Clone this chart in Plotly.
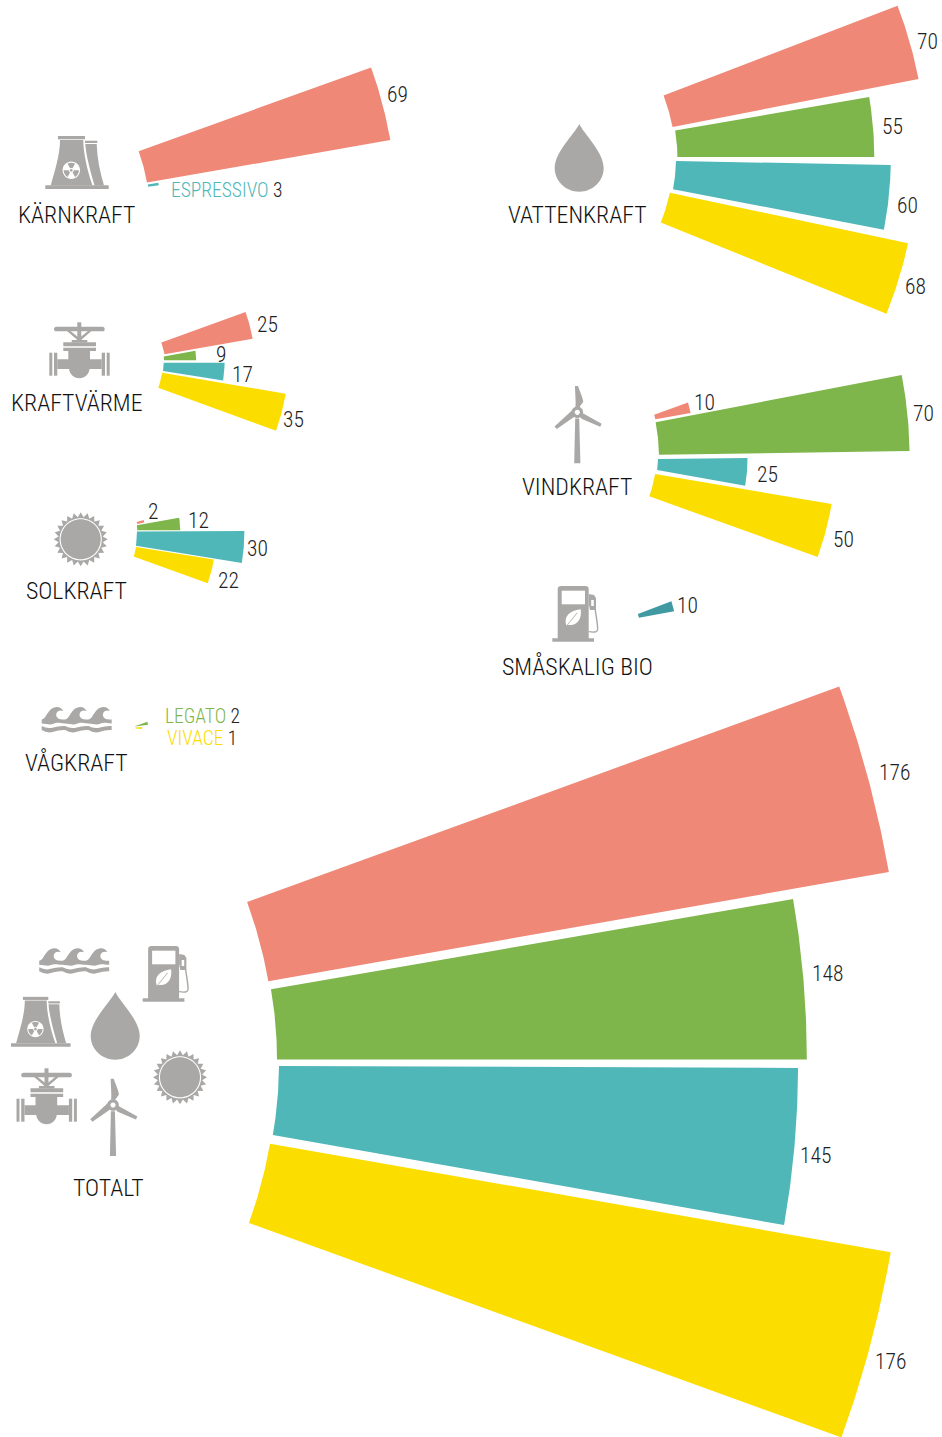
import re
import numpy as np
import plotly.graph_objects as go

# ---------- data ----------
CATEGORIES = ["KÄRNKRAFT", "VATTENKRAFT", "KRAFTVÄRME", "VINDKRAFT", "SOLKRAFT", "SMÅSKALIG BIO", "VÅGKRAFT", "TOTALT"]
CORAL_VALUES = [69, 70, 25, 10, 2, 0, 0, 176]
LEGATO_VALUES = [0, 55, 9, 70, 12, 0, 2, 148]
ESPRESSIVO_VALUES = [3, 60, 17, 25, 30, 10, 0, 145]
VIVACE_VALUES = [0, 68, 35, 50, 22, 0, 1, 176]
SERIES_NAMES = ["Coral", "LEGATO", "ESPRESSIVO", "VIVACE"]
SERIES_VALUES = [CORAL_VALUES, LEGATO_VALUES, ESPRESSIVO_VALUES, VIVACE_VALUES]

# ---------- styles / layout ----------
COLORS = ["#EF8877", "#7FB64B", "#50B7B9", "#FCDD00"]
BIO_COLOR = "#4199A2"
GREY = "#A9A8A6"
INK = "#222222"
FONT = "Roboto"
UNIT_PX = 3.58           # wedge length per unit
WAVE_UNIT_PX = 6.6       # the tiny wave-power wedges are drawn enlarged

# wedge anchor per (category, series): centre x, centre y, inner radius, low angle, high angle
WEDGES = {
    (0, 0): (-38.7, 215, 188.5, 9.9, 19.8),
    (0, 2): (-38.7, 215, 189, 8.6, 9.3),
    (1, 0): (489, 162.6, 187, 11, 21),
    (1, 1): (522.4, 157, 155, 0, 9.8),
    (1, 2): (511, 158, 165, -10.9, -1.05),
    (1, 3): (494.8, 155.5, 179, -22, -12),
    (2, 0): (96.5, 366, 69, 9.9, 19.9),
    (2, 1): (137.7, 360.3, 26.3, 0, 9.4),
    (2, 2): (111.4, 362.7, 52.3, -9.1, 0),
    (2, 3): (78, 358.6, 85.4, -20, -9.6),
    (3, 0): (628.3, 423.9, 27.5, 9.9, 19.7),
    (3, 1): (473, 457.5, 186, 0.85, 10.9),
    (3, 2): (598, 459.6, 60, -10.1, 0.6),
    (3, 3): (527.9, 452.6, 129, -19.8, -9.6),
    (4, 0): (98.4, 533.4, 40, 13.5, 16.5),
    (4, 1): (109.7, 530.3, 27.6, 0, 10.3),
    (4, 2): (50, 531.7, 87, -9.3, 0.2),
    (4, 3): (83, 538.4, 53.8, -19.8, -9.2),
    (5, 2): (618, 621.5, 21.3, 10.4, 20.9),
    (6, 1): (134, 726.7, 1, 8, 20),
    (6, 3): (125, 728, 10.5, -3, 3),
    (7, 0): (-195, 1063, 470.5, 10, 20),
    (7, 1): (-136, 1059.5, 413, 0, 9.8),
    (7, 2): (-127, 1064.4, 406, -10, -0.22),
    (7, 3): (-193, 1063, 470, -19.9, -9.9),
}

# value label anchor per (category, series)
VALUE_LABELS = {
    (0, 0): (397, 94), (1, 0): (927, 41), (1, 1): (892, 126), (1, 2): (907, 205), (1, 3): (915, 286),
    (2, 0): (267, 324), (2, 1): (221, 354), (2, 2): (242, 374), (2, 3): (293, 419),
    (3, 0): (704, 402), (3, 1): (923, 413), (3, 2): (767, 474), (3, 3): (843, 539),
    (4, 0): (153, 511), (4, 1): (198, 520), (4, 2): (257, 548), (4, 3): (228, 580),
    (5, 2): (687, 605),
    (7, 0): (894, 772), (7, 1): (827, 973), (7, 2): (815, 1155), (7, 3): (890, 1361),
}
NAMED_LABELS = {(0, 2): (168.5, 190), (6, 1): (162.5, 716), (6, 3): (164.5, 738)}
CATEGORY_LABELS = [(76, 215), (577, 215), (76, 403), (577, 487), (76, 591), (577, 666), (76, 762), (108, 1188)]


def narrow(text, color=None):
    style = "font-stretch:75%"
    if color:
        style += f";color:{color}"
    return f'<span style="{style}">{text}</span>'


def wedge_xy(value, geom, unit):
    cx, cy, r0, a0, a1 = geom
    r1 = r0 + value * unit
    t = np.radians(np.linspace(a0, a1, 40))
    x = np.concatenate([cx + r1 * np.cos(t), cx + r0 * np.cos(t[::-1])])
    y = np.concatenate([cy - r1 * np.sin(t), cy - r0 * np.sin(t[::-1])])
    return np.append(x, x[0]), np.append(y, y[0])


fig = go.Figure()
annotations = []

for c, cat in enumerate(CATEGORIES):
    for s, values in enumerate(SERIES_VALUES):
        v = values[c]
        if not v:
            continue
        x, y = wedge_xy(v, WEDGES[(c, s)], WAVE_UNIT_PX if c == 6 else UNIT_PX)
        color = BIO_COLOR if c == 5 else COLORS[s]
        fig.add_trace(go.Scatter(
            x=x, y=y, mode="lines", fill="toself", fillcolor=color,
            line=dict(width=0, color=color), name=f"{cat} {SERIES_NAMES[s]}",
            hoveron="fills", text=f"{cat}: {SERIES_NAMES[s]} {v}", hoverinfo="text", showlegend=False,
        ))
        if (c, s) in VALUE_LABELS:
            lx, ly = VALUE_LABELS[(c, s)]
            annotations.append(dict(x=lx, y=ly, text=narrow(v), xanchor="center", yanchor="middle",
                                    showarrow=False, font=dict(family=FONT, size=21.5, weight=300, color=INK)))
        if (c, s) in NAMED_LABELS:
            lx, ly = NAMED_LABELS[(c, s)]
            text = narrow(SERIES_NAMES[s], COLORS[s]) + narrow(f" {v}")
            annotations.append(dict(x=lx, y=ly, text=text, xanchor="left", yanchor="middle",
                                    showarrow=False, font=dict(family=FONT, size=19.5, weight=300, color=INK)))
    lx, ly = CATEGORY_LABELS[c]
    annotations.append(dict(x=lx, y=ly, text=narrow(cat), xanchor="center", yanchor="middle",
                            showarrow=False, font=dict(family=FONT, size=23.8, weight=300, color="#111111")))

# ---------- icons (decoration, drawn as shapes) ----------


def shift(path, dx, dy, s=1.0):
    return re.sub(r"(-?\d+\.?\d*),(-?\d+\.?\d*)",
                  lambda m: f"{float(m.group(1)) * s + dx:.2f},{float(m.group(2)) * s + dy:.2f}", path)


def rect(x0, y0, x1, y1):
    return f"M{x0},{y0} L{x1},{y0} L{x1},{y1} L{x0},{y1} Z"


def circle(cx, cy, r):
    k = 0.5523 * r
    return (f"M{cx + r},{cy} C{cx + r},{cy + k} {cx + k},{cy + r} {cx},{cy + r} "
            f"C{cx - k},{cy + r} {cx - r},{cy + k} {cx - r},{cy} "
            f"C{cx - r},{cy - k} {cx - k},{cy - r} {cx},{cy - r} "
            f"C{cx + k},{cy - r} {cx + r},{cy - k} {cx + r},{cy} Z")


def poly(points):
    return "M" + " L".join(f"{x:.2f},{y:.2f}" for x, y in points) + " Z"


def blade(cx, cy, r0, r1, a):
    t = np.radians(np.linspace(a - 30, a + 30, 8))
    pts = [(cx + r1 * np.cos(q), cy - r1 * np.sin(q)) for q in t]
    pts += [(cx + r0 * np.cos(q), cy - r0 * np.sin(q)) for q in t[::-1]]
    return poly(pts)


def sun_outline(cx, cy, r_in, r_out, n):
    pts = []
    for i in range(2 * n):
        r = r_out if i % 2 == 0 else r_in
        q = np.pi * i / n
        pts.append((cx + r * np.cos(q), cy + r * np.sin(q)))
    return poly(pts)


def wave_path():
    x0, p = 41.7, 23.33
    d = f"M{x0},719.5 "
    for i in range(3):
        b = x0 + i * p
        d += (f"C{b + 5},719 {b + 6},707.5 {b + 15},707 C{b + 18},706.9 {b + 20},708.5 {b + 21.5},711 "
              f"C{b + 17},709 {b + 12.5},713 {b + 15.5},717.5 C{b + 17},719.5 {b + 20},719.5 {b + p},719.5 ")
    d += f"L{x0 + 3 * p},723.5 "
    for i in range(3, 0, -1):
        b = x0 + i * p
        d += f"C{b - 5},723.5 {b - 8},721.8 {b - 11.6},723.8 C{b - 15},725.6 {b - 19},723.5 {b - p},723.5 "
    return d + "Z"


def lower_wave_path():
    x0, p = 41.7, 23.33
    d = f"M{x0},726 "
    for i in range(3):
        b = x0 + i * p
        d += f"Q{b + 5.8},729.2 {b + 11.65},727.5 Q{b + 17.5},725.6 {b + p},726 "
    d += f"L{x0 + 3 * p},730 "
    for i in range(3, 0, -1):
        b = x0 + i * p
        d += f"Q{b - 5.8},729.6 {b - 11.65},731.8 Q{b - 17.5},733.8 {b - p},730 "
    return d + "Z"


DROP = [("g", "M579.3,124 C584,134 603.7,152 603.7,168 C603.7,181 592.7,191.7 579.3,191.7 "
              "C565.7,191.7 554.7,181 554.7,168 C554.7,152 574.5,134 579.3,124 Z")]

NUCLEAR = [
    ("g", rect(58, 136, 85, 139.3)),
    ("g", rect(85, 140.7, 97.3, 143)),
    ("g", rect(45.3, 185.3, 108.7, 189)),
    ("g", "M60,140 L83.3,140 C83.3,152 87,170 92.5,185.5 L50.7,185.5 C55,170 60,155 60,140 Z"),
    ("g", "M85.3,144 L96.7,144 C97,158 100,172 104,185.5 L94.5,185.5 C90,170 86,155 85.3,144 Z"),
    ("w", circle(71.3, 170.3, 8.7)),
    ("g", blade(71.3, 170.3, 2.4, 7.6, 90)),
    ("g", blade(71.3, 170.3, 2.4, 7.6, 210)),
    ("g", blade(71.3, 170.3, 2.4, 7.6, 330)),
    ("g", circle(71.3, 170.3, 1.4)),
]

VALVE = [
    ("g", "M56.3,326.7 L102.4,326.7 C105.5,326.7 105.5,331.3 102.4,331.3 L56.3,331.3 C53.2,331.3 53.2,326.7 56.3,326.7 Z"),
    ("g", rect(77.3, 322.3, 81.3, 342)),
    ("g", "M67,331 L70.5,331 L79.3,338 L88,331 L91.5,331 L80,341 L78.5,341 Z"),
    ("g", rect(71.7, 340, 87.3, 342.5)),
    ("g", rect(63.3, 342.3, 96, 346.3)),
    ("g", rect(63.3, 347.7, 96, 350.9)),
    ("g", rect(68.3, 350.7, 90, 364)),
    ("g", rect(57.3, 359.3, 101.7, 369)),
    ("g", circle(79.3, 368, 10.3)),
    ("g", rect(49.3, 352.7, 52.3, 375.7)),
    ("g", rect(54, 352.7, 57.3, 375.7)),
    ("g", rect(101.7, 352.7, 105, 375.7)),
    ("g", rect(106.7, 352.7, 109.7, 375.7)),
]

TURBINE = [
    ("g", "M575.2,418.5 L579.2,418.5 L580.4,463.3 L574.2,463.3 Z"),
    ("g", "M575,386 L578,386 C580,392 582.5,397 583.3,401.7 L579.5,407 L575.5,407 C576,400 575,393 575,386 Z"),
    ("g", "M581.5,412.5 L601.7,423.8 L600.2,426.7 L582,419 L579,416 Z"),
    ("g", "M573,409.5 L554.5,426.5 L556.8,429 L574,417 L575,413 Z"),
    ("g", circle(577.3, 412.3, 5.8)),
    ("w", circle(577.3, 412.3, 2.6)),
]

SUN = [
    ("g", sun_outline(80.7, 539.3, 22.3, 27, 24)),
    ("w", circle(80.7, 539.3, 21.1)),
    ("g", circle(80.7, 539.3, 20)),
]

WAVES = [("g", wave_path()), ("g", lower_wave_path())]

PUMP = [
    ("g", "M561,586 L585.5,586 C587.5,586 588.7,587.2 588.7,589 L588.7,639 L557.7,639 L557.7,589 "
          "C557.7,587.2 559,586 561,586 Z"),
    ("g", rect(552.3, 638.3, 594, 641.7)),
    ("w", rect(561.7, 590.7, 585, 604.3)),
    ("w", "M566.2,625.3 C563.5,616 570,610.5 580.7,609.3 C582,618 578,625.5 569.5,625 C568,625 567,625.3 566.2,625.3 Z"),
    ("g", "M566.5,625.5 L577,612.5 L577.5,613 L567.3,625.5 Z"),
    ("g", "M588.7,594 L594,595 L596,598 L596,610 L590,610 L588.7,604 Z"),
    ("w", rect(591.2, 600, 593.8, 606)),
    ("g", "M596,610 C597.5,620 599,628 598,630.5 C597,633.5 592.5,632.8 588.7,632.3 L588.7,631 "
          "C592,631.5 596,632 596.8,630 C597.5,628 596,620 594.6,610 Z"),
]

ICON_PLACES = [
    (DROP, 0, 0, 1), (NUCLEAR, 0, 0, 1), (VALVE, 0, 0, 1), (TURBINE, 0, 0, 1), (SUN, 0, 0, 1), (PUMP, 0, 0, 1),
    (WAVES, 0, 0, 1),
    (DROP, -464, 868, 1), (NUCLEAR, -31.6, 869, 0.94), (VALVE, -32.8, 746, 1), (TURBINE, -464.3, 692.7, 1),
    (SUN, 99.3, 538, 1), (PUMP, -409.6, 360, 1), (WAVES, -2.5, 241.3, 1),
]
shapes = []
for icon, dx, dy, s in ICON_PLACES:
    for tone, d in icon:
        shapes.append(dict(type="path", path=shift(d, dx, dy, s), xref="x", yref="y", layer="above",
                           fillcolor=GREY if tone == "g" else "white", line=dict(width=0)))

fig.update_layout(
    width=942, height=1437, margin=dict(l=0, r=0, t=0, b=0),
    paper_bgcolor="white", plot_bgcolor="white", showlegend=False,
    xaxis=dict(range=[0, 942], visible=False, fixedrange=True),
    yaxis=dict(range=[1437, 0], visible=False, fixedrange=True),
    annotations=annotations, shapes=shapes,
)
fig.write_html("out.html", post_script="document.body.style.margin='0';document.body.style.overflow='hidden';",
               config={"displayModeBar": False})
